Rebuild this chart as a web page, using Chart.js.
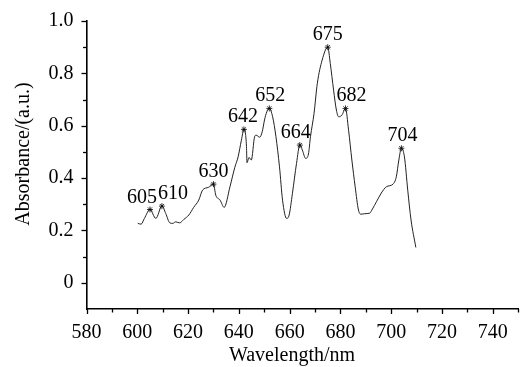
<!DOCTYPE html>
<html>
<head>
<meta charset="utf-8">
<script src="https://cdn.jsdelivr.net/npm/chart.js@4/dist/chart.umd.min.js"></script>
<style>
  html, body { margin: 0; padding: 0; background: #fff; }
  #wrap { width: 523px; height: 367px; position: relative; }
</style>
</head>
<body>
<div id="wrap"><canvas id="chart"></canvas></div>
<script>
// spectrum
const wavelength = [600.2, 601.5, 602.8, 605, 607.3, 609.7, 611.2, 612.8, 614, 615.1, 616.7, 618.3, 620.3, 622.2, 624.2, 625.7, 628.1, 630,
  630.9, 632.6, 634.2, 636.5, 638.4, 639.7, 641, 642, 643, 643.2, 644, 644.9, 646.2, 646.8, 648.2, 649.2, 650.1, 651, 652,
  653.3, 654.6, 656, 657.2, 658.8, 659.8, 661.1, 662.7, 664, 665, 666.3, 667.4, 668.2, 669.6, 670.9, 672.8, 675,
  676, 677.3, 678.4, 679.3, 680.6, 682, 683.2, 684.5, 685.8, 687.1, 688.1, 689.5, 691.5, 692.6, 694.2, 696.1, 698.1,
  700.7, 702, 703, 704, 705.2, 706.5, 707.8, 709.7];
const absorbance = [0.227, 0.224, 0.246, 0.280, 0.246, 0.293, 0.265, 0.229, 0.227, 0.233, 0.229, 0.242, 0.259, 0.288, 0.316, 0.354, 0.365, 0.377,
  0.335, 0.316, 0.288, 0.367, 0.441, 0.481, 0.545, 0.586, 0.520, 0.459, 0.479, 0.469, 0.558, 0.564, 0.556, 0.577, 0.622, 0.653, 0.666,
  0.634, 0.558, 0.443, 0.316, 0.246, 0.259, 0.342, 0.456, 0.526, 0.507, 0.475, 0.492, 0.558, 0.647, 0.762, 0.851, 0.900,
  0.838, 0.736, 0.660, 0.634, 0.641, 0.666, 0.583, 0.469, 0.367, 0.278, 0.262, 0.264, 0.266, 0.282, 0.310, 0.343, 0.367,
  0.377, 0.405, 0.469, 0.514, 0.481, 0.354, 0.240, 0.135];

// marked peaks
const peakNm = [605, 610, 630, 642, 652, 664, 675, 682, 704];
const peakLabels = ['605', '610', '630', '642', '652', '664', '675', '682', '704'];

const xTicks = [580, 600, 620, 640, 660, 680, 700, 720, 740];
const yTicks = [0, 0.2, 0.4, 0.6, 0.8, 1.0];

// small sideways shifts so neighbouring labels do not collide
const labelShift = [-8, 11, 0, -1, 1, -4, 0, 6, 1];

const serif = '"Liberation Serif", "DejaVu Serif", serif';

const spectrum = wavelength.map((x, i) => ({ x: x, y: absorbance[i] }));
const peaks = peakNm.map(nm => {
    let best = 0;
    wavelength.forEach((w, i) => { if (Math.abs(w - nm) < Math.abs(wavelength[best] - nm)) best = i; });
    return { x: wavelength[best], y: absorbance[best] };
});

// outward ticks, minor every 10 nm / 0.1, plus axis titles and peak labels
const decorPlugin = {
    id: 'decor',
    afterDraw(chart) {
        const ctx = chart.ctx;
        const xs = chart.scales.x, ys = chart.scales.y;
        const area = chart.chartArea;
        ctx.save();
        ctx.strokeStyle = '#000';
        ctx.lineWidth = 1.3;
        for (let v = 580; v <= 750; v += 10) {
            const px = Math.round(xs.getPixelForValue(v)) + 0.5;
            const len = v % 20 === 0 ? 5 : 3.5;
            ctx.beginPath();
            ctx.moveTo(px, area.bottom);
            ctx.lineTo(px, area.bottom + len);
            ctx.stroke();
        }
        for (let k = 0; k <= 10; k++) {
            const py = Math.round(ys.getPixelForValue(k / 10)) + 0.5;
            const len = k % 2 === 0 ? 5 : 3.5;
            ctx.beginPath();
            ctx.moveTo(area.left, py);
            ctx.lineTo(area.left - len, py);
            ctx.stroke();
        }

        ctx.fillStyle = '#000';
        ctx.font = '20px ' + serif;
        ctx.textAlign = 'center';
        ctx.textBaseline = 'alphabetic';
        peaks.forEach((p, i) => {
            const px = xs.getPixelForValue(p.x) + labelShift[i];
            const py = ys.getPixelForValue(p.y) - 7;
            ctx.fillText(peakLabels[i], px, py);
        });

        ctx.fillText('Wavelength/nm', 292, 361);

        ctx.translate(29, 154);
        ctx.rotate(-Math.PI / 2);
        ctx.fillText('Absorbance/(a.u.)', 0, 0);
        ctx.restore();
    }
};

new Chart(document.getElementById('chart'), {
    type: 'scatter',
    data: {
        datasets: [{
            data: spectrum,
            showLine: true,
            borderColor: '#222',
            borderWidth: 1,
            pointRadius: 0,
            cubicInterpolationMode: 'monotone',
            order: 2
        }, {
            data: peaks,
            showLine: false,
            pointStyle: 'star',
            pointRadius: 3,
            borderColor: '#000',
            borderWidth: 0.8,
            backgroundColor: '#000',
            order: 1
        }]
    },
    options: {
        responsive: true,
        maintainAspectRatio: false,
        animation: false,
        layout: { padding: { top: 21, right: 0, left: 0, bottom: 0 } },
        plugins: {
            legend: { display: false },
            tooltip: { enabled: false }
        },
        scales: {
            x: {
                type: 'linear',
                min: 580,
                max: 750,
                grid: { display: false },
                border: { display: true, color: '#000', width: 1.6 },
                afterBuildTicks: s => { s.ticks = xTicks.map(v => ({ value: v })); },
                afterFit: s => { s.height = 58; },
                ticks: {
                    color: '#000',
                    padding: 4,
                    maxRotation: 0,
                    font: { family: serif, size: 20 },
                    callback: v => String(v)
                }
            },
            y: {
                min: -0.1,
                max: 1.0,
                grid: { display: false },
                border: { display: true, color: '#000', width: 1.6 },
                afterBuildTicks: s => { s.ticks = yTicks.map(v => ({ value: v })); },
                afterFit: s => { s.width = 86.5; },
                ticks: {
                    color: '#000',
                    padding: 5,
                    font: { family: serif, size: 20 },
                    callback: v => v === 0 ? '0' : v.toFixed(1)
                }
            }
        }
    },
    plugins: [decorPlugin]
});
</script>
</body>
</html>
